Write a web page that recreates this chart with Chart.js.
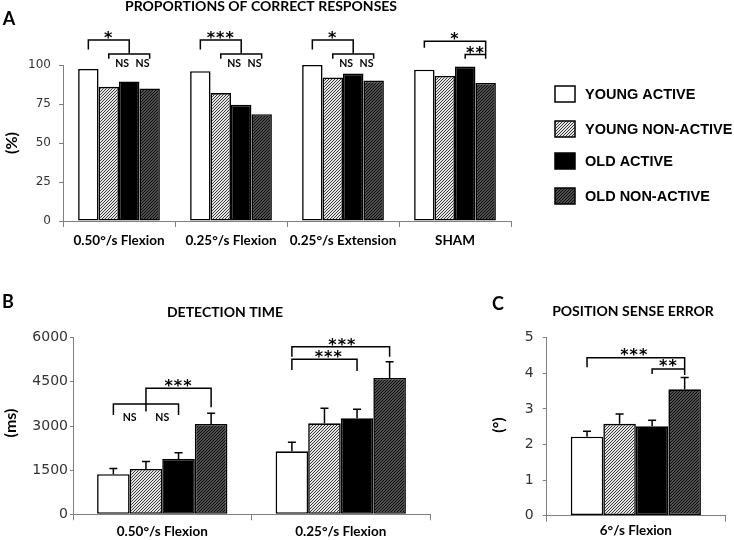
<!DOCTYPE html>
<html>
<head>
<meta charset="utf-8">
<script src="https://cdn.jsdelivr.net/npm/chart.js@4.4.1/dist/chart.umd.min.js"></script>
<style>
  body { margin: 0; background: #fff; }
  #page { position: relative; width: 734px; height: 540px; overflow: hidden; }
  canvas { position: absolute; }
</style>
</head>
<body>
<div id="page">
  <canvas id="chartA" width="734" height="255" style="left:0;top:0"></canvas>
  <canvas id="chartB" width="445" height="255" style="left:0;top:285px"></canvas>
  <canvas id="chartC" width="254" height="255" style="left:480px;top:285px"></canvas>
</div>
<script>
const groups = ['YOUNG ACTIVE', 'YOUNG NON-ACTIVE', 'OLD ACTIVE', 'OLD NON-ACTIVE'];

// A - proportions of correct responses (%)
const catsA = ['0.50°/s Flexion', '0.25°/s Flexion', '0.25°/s Extension', 'SHAM'];
const youngActiveA = [97.5, 96, 100, 97];
const youngNonActiveA = [86, 82, 92, 93];
const oldActiveA = [89.5, 74.5, 94.5, 99];
const oldNonActiveA = [85, 68.5, 90, 88.5];
const ticksA = [0, 25, 50, 75, 100];

// B - detection time (ms), mean and SE
const catsB = ['0.50°/s Flexion', '0.25°/s Flexion'];
const youngActiveB = [1360, 2140];
const youngNonActiveB = [1540, 3090];
const oldActiveB = [1880, 3260];
const oldNonActiveB = [3070, 4630];
const youngActiveErrB = [200, 305];
const youngNonActiveErrB = [250, 510];
const oldActiveErrB = [215, 305];
const oldNonActiveErrB = [365, 555];
const ticksB = [0, 1500, 3000, 4500, 6000];

// C - position sense error (°), mean and SE
const catsC = ['6°/s Flexion'];
const youngActiveC = [2.22];
const youngNonActiveC = [2.58];
const oldActiveC = [2.51];
const oldNonActiveC = [3.55];
const youngActiveErrC = [0.15];
const youngNonActiveErrC = [0.28];
const oldActiveErrC = [0.17];
const oldNonActiveErrC = [0.33];
const ticksC = [0, 1, 2, 3, 4, 5];

// significance brackets: [category, from bar, to bar, line value, left leg end, right leg end]
const bracketsA = [
  [0, 0, 2, 116, 110, 107], [0, 1, 3, 107, 104, 104],
  [1, 0, 2, 116, 110, 107], [1, 1, 3, 107, 104, 104],
  [2, 0, 2, 116, 110, 107], [2, 1, 3, 107, 104, 104],
  [3, 0, 3, 115.2, 111, 104], [3, 2, 3, 106.8, 104, null]
];
// labels: [category, bar position, value, text]
const marksA = [
  [0, 1, 119.5, '*'], [0, 1.65, 100.6, 'NS'], [0, 2.65, 100.6, 'NS'],
  [1, 1, 119.5, '***'], [1, 1.65, 100.6, 'NS'], [1, 2.65, 100.6, 'NS'],
  [2, 1, 119.5, '*'], [2, 1.65, 100.6, 'NS'], [2, 2.65, 100.6, 'NS'],
  [3, 1.5, 119, '*'], [3, 2.5, 110, '**']
];
const bracketsB = [
  [0, 0, 2, 3748, 3374, 3374], [0, 1, 3, 4281, 3490, 3636],
  [1, 0, 2, 5266, 4903, 4868], [1, 0, 3, 5695, 5355, 5355]
];
const marksB = [
  [0, 0.5, 3282, 'NS'], [0, 1.5, 3282, 'NS'], [0, 2, 4470, '***'],
  [1, 1.13, 5440, '***'], [1, 1.55, 5870, '***']
];
const bracketsC = [
  [0, 0, 3, 4.44, 4.17, 3.95], [0, 2, 3, 4.12, 3.98, null]
];
const marksC = [
  [0, 1.45, 4.6, '***'], [0, 2.5, 4.28, '**']
];

Chart.defaults.font.family = 'Lato, "DejaVu Sans", sans-serif';
Chart.defaults.color = '#222';

function hatch(ctx, bg, fg, size, lw) {
  const c = document.createElement('canvas');
  c.width = c.height = size;
  const x = c.getContext('2d');
  x.fillStyle = bg;
  x.fillRect(0, 0, size, size);
  x.strokeStyle = fg;
  x.lineWidth = lw;
  x.beginPath();
  x.moveTo(-1, size + 1); x.lineTo(size + 1, -1);
  x.moveTo(-1, 1); x.lineTo(1, -1);
  x.moveTo(size - 1, size + 1); x.lineTo(size + 1, size - 1);
  x.stroke();
  return ctx.createPattern(c, 'repeat');
}

const extras = {
  id: 'extras',
  afterDatasetsDraw(chart, args, opts) {
    const ctx = chart.ctx, ys = chart.scales.y;
    const m0 = chart.getDatasetMeta(0), m3 = chart.getDatasetMeta(3);
    const xAt = (cat, pos) => m0.data[cat].x + pos * (m3.data[cat].x - m0.data[cat].x) / 3;
    ctx.save();
    ctx.strokeStyle = '#000';
    ctx.lineWidth = 1.5;
    (opts.errors || []).forEach((errs, i) => {
      chart.getDatasetMeta(i).data.forEach((bar, j) => {
        const top = ys.getPixelForValue(chart.data.datasets[i].data[j] + errs[j]);
        ctx.beginPath();
        ctx.moveTo(bar.x, bar.y);
        ctx.lineTo(bar.x, top);
        ctx.moveTo(bar.x - 4, top);
        ctx.lineTo(bar.x + 4, top);
        ctx.stroke();
      });
    });
    (opts.brackets || []).forEach(([cat, a, b, lv, l, r]) => {
      const x1 = xAt(cat, a), x2 = xAt(cat, b), yy = ys.getPixelForValue(lv);
      ctx.beginPath();
      ctx.moveTo(x1, l == null ? yy : ys.getPixelForValue(l));
      ctx.lineTo(x1, yy);
      ctx.lineTo(x2, yy);
      ctx.lineTo(x2, r == null ? yy : ys.getPixelForValue(r));
      ctx.stroke();
    });
    ctx.fillStyle = '#000';
    ctx.textAlign = 'center';
    ctx.textBaseline = 'middle';
    (opts.marks || []).forEach(([cat, pos, lv, t]) => {
      const star = t.includes('*');
      ctx.font = star ? 'bold 16px "DejaVu Sans"' : 'bold 10.5px Lato';
      ctx.letterSpacing = star ? '1px' : '0px';
      ctx.fillText(t, xAt(cat, pos), ys.getPixelForValue(lv) + (star ? 4 : 0));
    });
    ctx.restore();
  },
  afterDraw(chart, args, opts) {
    const ctx = chart.ctx;
    ctx.save();
    ctx.fillStyle = '#000';
    ctx.textAlign = 'center';
    ctx.textBaseline = 'middle';
    (opts.texts || []).forEach(([t, x, y, font, rot]) => {
      ctx.save();
      ctx.translate(x, y);
      if (rot) ctx.rotate(rot);
      ctx.font = font;
      ctx.fillText(t, 0, 0);
      ctx.restore();
    });
    if (opts.legend) {
      const lg = opts.legend;
      ctx.textAlign = 'left';
      ctx.font = 'bold 14.5px "Liberation Sans", Arial, sans-serif';
      chart.data.datasets.forEach((ds, i) => {
        const cy = lg.rows[i];
        ctx.fillStyle = ds.backgroundColor;
        ctx.fillRect(lg.x, cy - 8, 20, 16);
        ctx.strokeStyle = '#000';
        ctx.lineWidth = 1.5;
        ctx.strokeRect(lg.x, cy - 8, 20, 16);
        ctx.fillStyle = '#000';
        ctx.fillText(ds.label, lg.x + 30, cy + 1);
      });
    }
    ctx.restore();
  }
};

function makeChart(id, cats, series, ticks, cfg) {
  const canvas = document.getElementById(id);
  const ctx = canvas.getContext('2d');
  const fills = ['#ffffff', hatch(ctx, '#e6e6e6', '#222', 3, 0.9), '#000000', hatch(ctx, '#6a6a6a', '#0a0a0a', 3, 1.1)];
  return new Chart(canvas, {
    type: 'bar',
    data: {
      labels: cats,
      datasets: series.map((d, i) => ({
        label: groups[i],
        data: d,
        backgroundColor: fills[i],
        borderColor: '#000',
        borderWidth: 1.6,
        borderSkipped: false,
        categoryPercentage: 0.73,
        barPercentage: 1
      }))
    },
    options: {
      responsive: false,
      animation: false,
      layout: { padding: cfg.padding },
      plugins: {
        legend: { display: false },
        tooltip: { enabled: false },
        extras: cfg.extras
      },
      scales: {
        x: {
          grid: { offset: true, drawOnChartArea: false, tickLength: 6, color: '#808080' },
          border: { color: '#808080', width: 1 },
          ticks: {
            font: { size: cfg.xFont, weight: 'bold' },
            color: '#000',
            padding: cfg.xPad,
            maxRotation: 0,
            minRotation: 0,
            autoSkip: false
          },
          afterFit: s => { s.height = cfg.xHeight; }
        },
        y: {
          min: ticks[0],
          max: ticks[ticks.length - 1],
          afterBuildTicks: s => { s.ticks = ticks.map(v => ({ value: v })); },
          grid: { drawOnChartArea: false, tickLength: cfg.yTick, color: '#808080' },
          border: { color: '#808080', width: 1 },
          ticks: {
            font: { family: '"DejaVu Sans", sans-serif', size: cfg.yFont },
            color: '#333',
            padding: cfg.yPad,
            callback: v => String(v)
          },
          afterFit: s => { s.width = cfg.yWidth; }
        }
      }
    },
    plugins: [extras]
  });
}

makeChart('chartA', catsA, [youngActiveA, youngNonActiveA, oldActiveA, oldNonActiveA], ticksA, {
  padding: { top: 65, right: 223, bottom: 0, left: 0 },
  xHeight: 34, xFont: 13.5, xPad: 5.5, yWidth: 63, yFont: 12, yPad: 8, yTick: 4,
  extras: {
    brackets: bracketsA, marks: marksA,
    legend: { x: 555, rows: [94, 129, 161, 196] },
    texts: [
      ['A', 9, 19, 'bold 18px Lato'],
      ['PROPORTIONS OF CORRECT RESPONSES', 261, 6, 'bold 14px Lato'],
      ['(%)', 12, 143, 'bold 16px Lato', -Math.PI / 2]
    ]
  }
});

makeChart('chartB', catsB, [youngActiveB, youngNonActiveB, oldActiveB, oldNonActiveB], ticksB, {
  padding: { top: 52.7, right: 15, bottom: 0, left: 0 },
  xHeight: 25.7, xFont: 13.5, xPad: 3, yWidth: 73, yFont: 14, yPad: 2, yTick: 3,
  extras: {
    brackets: bracketsB, marks: marksB,
    errors: [youngActiveErrB, youngNonActiveErrB, oldActiveErrB, oldNonActiveErrB],
    texts: [
      ['B', 8, 17.5, 'bold 18px Lato'],
      ['DETECTION TIME', 225, 27.5, 'bold 14px Lato'],
      ['(ms)', 11, 138, 'bold 16px Lato', -Math.PI / 2]
    ]
  }
});

makeChart('chartC', catsC, [youngActiveC, youngNonActiveC, oldActiveC, oldNonActiveC], ticksC, {
  padding: { top: 52.7, right: 9, bottom: 0, left: 0 },
  xHeight: 24.3, xFont: 13.5, xPad: 0.5, yWidth: 66.7, yFont: 14, yPad: 9, yTick: 4,
  extras: {
    brackets: bracketsC, marks: marksC,
    errors: [youngActiveErrC, youngNonActiveErrC, oldActiveErrC, oldNonActiveErrC],
    texts: [
      ['C', 18, 19, 'bold 18px Lato'],
      ['POSITION SENSE ERROR', 153, 26.7, 'bold 14px Lato'],
      ['(°)', 19, 140, 'bold 16px Lato', -Math.PI / 2]
    ]
  }
});
</script>
</body>
</html>
